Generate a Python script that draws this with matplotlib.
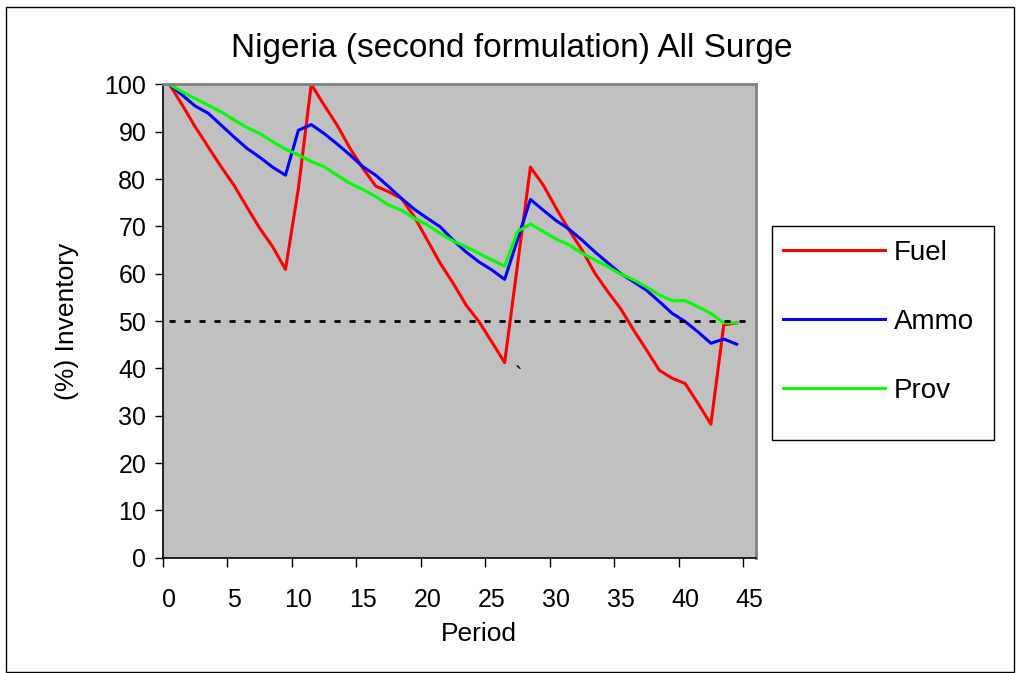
import matplotlib.pyplot as plt
from matplotlib.patches import Rectangle
import numpy as np

plt.rcParams['font.family'] = ['Liberation Sans', 'DejaVu Sans']

# values, one per period 0..44
fuel = [100, 95.6, 91.0, 86.8, 82.6, 78.7, 74.1, 69.6, 65.7, 60.9,
        78.0, 100, 95.6, 91.4, 86.5, 82.3, 78.5, 77.3, 75.9, 72.0,
        67.1, 62.2, 58.0, 53.4, 49.9, 45.6, 41.2, 61.9, 82.5, 78.7,
        73.8, 69.2, 65.0, 60.1, 56.2, 52.6, 48.1, 43.9, 39.6, 37.9,
        36.8, 32.6, 28.2, 49.2, 49.6]
ammo = [100, 97.7, 95.4, 93.9, 91.4, 88.9, 86.5, 84.6, 82.5, 80.8,
        90.3, 91.5, 89.6, 87.4, 85.1, 82.6, 80.8, 78.4, 75.9, 73.6,
        71.7, 69.9, 67.1, 64.6, 62.5, 60.8, 58.8, 67.2, 75.7, 73.4,
        71.2, 69.4, 67.1, 64.6, 62.3, 60.0, 58.3, 56.5, 54.1, 51.6,
        49.9, 47.7, 45.3, 46.2, 45.1]
prov = [100, 98.4, 97.0, 95.6, 94.2, 92.5, 90.9, 89.6, 87.9, 86.3,
        85.1, 83.7, 82.6, 80.8, 79.1, 77.8, 76.3, 74.5, 73.4, 71.7,
        70.3, 68.5, 66.9, 65.7, 64.3, 62.9, 61.6, 68.9, 70.5, 68.9,
        67.3, 66.1, 64.3, 62.9, 61.5, 59.9, 58.7, 57.2, 55.5, 54.3,
        54.3, 53.0, 51.6, 49.6, 49.6]
threshold = [50] * 46

periods = np.arange(len(fuel))
periods_all = np.arange(len(threshold))

fig = plt.figure(figsize=(10.17, 6.73), dpi=100)
ax = fig.add_axes([0.1603, 0.1713, 0.5831, 0.7034])
ax.set_facecolor('#c0c0c0')

ax.plot(periods, fuel, color='#ff0000', lw=2.2, label='Fuel')
ax.plot(periods, ammo, color='#0000ff', lw=2.2, label='Ammo')
ax.plot(periods, prov, color='#00ff00', lw=2.2, label='Prov')
ax.plot(periods_all, threshold, color='black', lw=2.0,
        linestyle=(0, (2.2, 3.2)), zorder=5)
ax.text(27.05, 38.3, '`', fontsize=16, ha='center', va='center')

ax.set_xlim(-0.5, 45.5)
ax.set_ylim(0, 100)
ax.set_yticks(range(0, 101, 10))
ax.set_xticks(range(0, 46, 5))
ax.set_xticks(np.arange(-0.5, 45, 5), minor=True)
ax.tick_params(axis='x', which='major', length=0, pad=22, labelsize=18)
ax.tick_params(axis='x', which='minor', length=6.5, width=1, direction='out')
ax.tick_params(axis='y', length=6, width=1, direction='out', pad=6,
               labelsize=18)

for side in ['top', 'right']:
    ax.spines[side].set_color('#808080')
    ax.spines[side].set_linewidth(2)
for side in ['left', 'bottom']:
    ax.spines[side].set_color('black')
    ax.spines[side].set_linewidth(1.2)

fig.text(512 / 1017, 1 - 48 / 673, 'Nigeria (second formulation) All Surge',
         fontsize=24, ha='center', va='center')
ax.set_ylabel('(%) Inventory', fontsize=19, labelpad=18)
ax.set_xlabel('Period', fontsize=19, labelpad=2)
ax.xaxis.set_label_coords(0.532, -0.135)

leg = fig.legend(loc='upper left', bbox_to_anchor=(0.745, 0.6805),
                 frameon=False, fontsize=20, handlelength=3.7,
                 handletextpad=0.3, labelspacing=1.55)
fig.patches.append(Rectangle((771.7 / 1017, 1 - 440 / 673), 222 / 1017,
                             214 / 673, transform=fig.transFigure,
                             fill=False, edgecolor='black', lw=1))
fig.patches.append(Rectangle((6 / 1017, 1 / 673), 1008 / 1017, 665 / 673,
                             transform=fig.transFigure, fill=False,
                             edgecolor='black', lw=1))

plt.savefig('out.png', dpi=100)
